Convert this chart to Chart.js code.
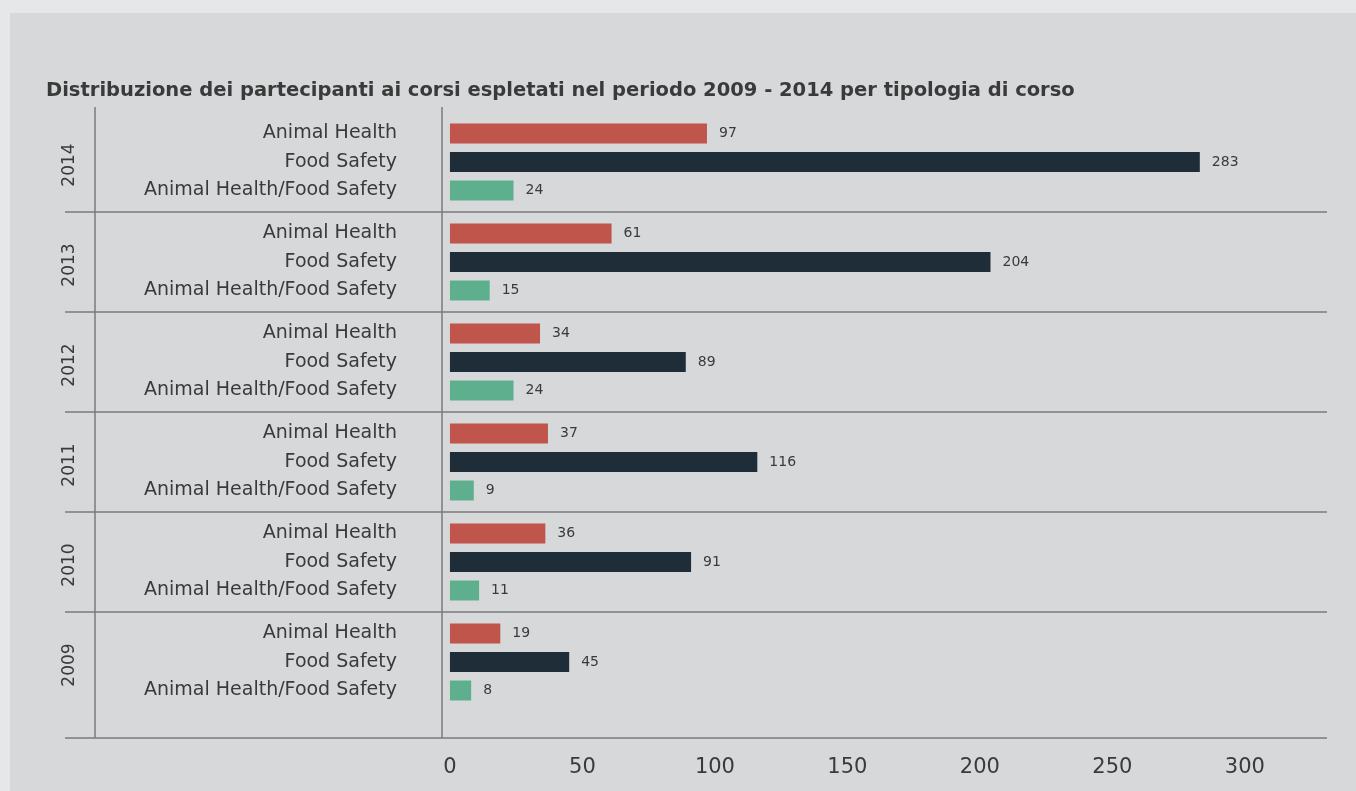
<!DOCTYPE html>
<html>
<head>
<meta charset="utf-8">
<script src="https://cdn.jsdelivr.net/npm/chart.js@4.4.0/dist/chart.umd.min.js"></script>
<style>
    html, body { margin: 0; padding: 0; background: #e6e7e9; }
    #panel { position: absolute; left: 10px; top: 13px; right: 0; bottom: 0; background: #d7d8da; }
    #chart { position: absolute; left: 0; top: 0; }
</style>
</head>
<body>
<div id="panel"></div>
<canvas id="chart" width="1356" height="791"></canvas>
<script>
// anni (dall'alto verso il basso)
var years = ['2014', '2013', '2012', '2011', '2010', '2009'];
var courseTypes = ['Animal Health', 'Food Safety', 'Animal Health/Food Safety'];
var animalHealth = [97, 61, 34, 37, 36, 19];
var foodSafety = [283, 204, 89, 116, 91, 45];
var mixedCourses = [24, 15, 24, 9, 11, 8];
var xTicks = [0, 50, 100, 150, 200, 250, 300];

var textColor = '#3a3a3a';
var lineColor = '#7b7b7b';

// linee di separazione, anni, etichette dei corsi e valori
var decor = {
    id: 'decor',
    beforeDatasetsDraw: function (chart) {
        var ctx = chart.ctx, a = chart.chartArea, y = chart.scales.y;
        var bottom = a.bottom + 26;
        ctx.save();
        ctx.strokeStyle = lineColor;
        ctx.lineWidth = 1.5;
        ctx.beginPath();
        ctx.moveTo(95, a.top - 5); ctx.lineTo(95, bottom);
        ctx.moveTo(a.left, a.top - 5); ctx.lineTo(a.left, bottom);
        ctx.moveTo(65, bottom); ctx.lineTo(a.right, bottom);
        for (var i = 1; i < years.length; i++) {
            var yb = (y.getPixelForValue(i - 1) + y.getPixelForValue(i)) / 2;
            ctx.moveTo(65, yb); ctx.lineTo(a.right, yb);
        }
        ctx.stroke();

        // anni ruotati
        ctx.fillStyle = textColor;
        ctx.font = '17px "DejaVu Sans"';
        ctx.textAlign = 'center';
        ctx.textBaseline = 'middle';
        years.forEach(function (yr, i) {
            ctx.save();
            ctx.translate(70, y.getPixelForValue(i) + 3);
            ctx.rotate(-Math.PI / 2);
            ctx.fillText(yr, 0, 0);
            ctx.restore();
        });
        ctx.restore();
    },
    afterDatasetsDraw: function (chart) {
        var ctx = chart.ctx;
        ctx.save();
        ctx.fillStyle = textColor;
        ctx.textBaseline = 'middle';
        chart.data.datasets.forEach(function (ds, d) {
            var meta = chart.getDatasetMeta(d);
            meta.data.forEach(function (bar, i) {
                ctx.font = '19px "DejaVu Sans"';
                ctx.textAlign = 'right';
                ctx.fillText(courseTypes[d], 397, bar.y);
                ctx.font = '14px "DejaVu Sans"';
                ctx.textAlign = 'left';
                ctx.fillText(String(ds.data[i]), bar.x + 12, bar.y);
            });
        });
        ctx.restore();
    }
};

var ctx = document.getElementById('chart').getContext('2d');
var myChart = new Chart(ctx, {
    type: 'bar',
    data: {
        labels: years,
        datasets: [{
            label: courseTypes[0],
            data: animalHealth,
            backgroundColor: '#c0554b'
        }, {
            label: courseTypes[1],
            data: foodSafety,
            backgroundColor: '#1f2d38'
        }, {
            label: courseTypes[2],
            data: mixedCourses,
            backgroundColor: '#5eaf8d'
        }]
    },
    options: {
        indexAxis: 'y',
        responsive: false,
        animation: false,
        categoryPercentage: 0.855,
        barPercentage: 0.7,
        layout: { padding: { left: 46, right: 29, top: 0, bottom: 0 } },
        plugins: {
            legend: { display: false },
            tooltip: { enabled: false },
            title: {
                display: true,
                align: 'start',
                text: 'Distribuzione dei partecipanti ai corsi espletati nel periodo 2009 - 2014 per tipologia di corso',
                color: textColor,
                font: { family: '"DejaVu Sans"', size: 19.5, weight: 'bold' },
                padding: { top: 79, bottom: 9.6 }
            }
        },
        scales: {
            x: {
                min: -3,
                max: 331,
                afterBuildTicks: function (scale) {
                    scale.ticks = xTicks.map(function (v) { return { value: v }; });
                },
                afterFit: function (scale) { scale.height = 79; },
                grid: { display: false },
                border: { display: false },
                ticks: {
                    color: textColor,
                    padding: 35,
                    font: { family: '"DejaVu Sans"', size: 21 }
                }
            },
            y: {
                afterFit: function (scale) { scale.width = 396; },
                grid: { display: false, drawTicks: false },
                border: { display: false },
                ticks: { display: false }
            }
        }
    },
    plugins: [decor]
});
</script>
</body>
</html>
